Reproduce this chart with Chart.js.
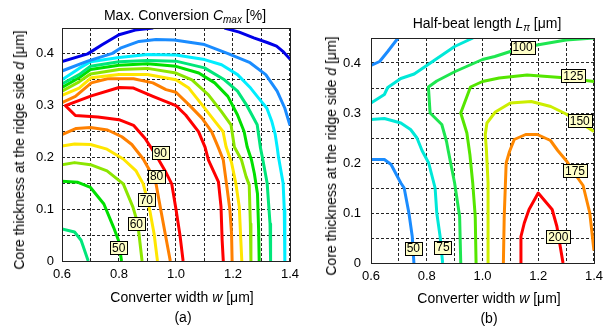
<!DOCTYPE html>
<html>
<head>
<meta charset="utf-8">
<script src="https://cdn.jsdelivr.net/npm/chart.js"></script>
<style>
  body { margin: 0; background: #fff; }
  #page { position: relative; width: 609px; height: 329px; overflow: hidden;
          font-family: Arial, "Liberation Sans", sans-serif; color: #000; }
  .panel { position: absolute; top: 0; height: 329px; }
  .txt { position: absolute; white-space: nowrap; font-size: 14px; line-height: 1;
         transform: translate(-50%, -50%); }
  .rot { transform: translate(-50%, -50%) rotate(-90deg); }
  sub { font-size: 10px; line-height: 0; vertical-align: -3px; }
</style>
</head>
<body>
<div id="page">
  <div class="panel" style="left:0;width:305px"><canvas id="chartA"></canvas></div>
  <div class="panel" style="left:305px;width:304px"><canvas id="chartB"></canvas></div>

  <div class="txt" style="left:185px;top:15px">Max. Conversion <i>C</i><sub><i>max</i></sub> [%]</div>
  <div class="txt" style="left:487px;top:23px">Half-beat length <i>L</i><sub><i>π</i></sub> [μm]</div>
  <div class="txt rot" style="left:19px;top:150px">Core thickness at the ridge side <i>d</i> [μm]</div>
  <div class="txt rot" style="left:331px;top:156px">Core thickness at the ridge side <i>d</i> [μm]</div>
  <div class="txt" style="left:182px;top:297px">Converter width <i>w</i> [μm]</div>
  <div class="txt" style="left:489px;top:298px">Converter width <i>w</i> [μm]</div>
  <div class="txt" style="left:183px;top:317px">(a)</div>
  <div class="txt" style="left:489px;top:318px">(b)</div>
</div>

<script>
// ---- (a) Max. conversion Cmax [%] : contour lines, points are [w (um), d (um)]
const cmax10a = [[0.6,0.385],[0.69,0.4],[0.742,0.418],[0.8,0.437],[0.857,0.446],[0.92,0.45]];
const cmax10b = [[1.17,0.45],[1.222,0.442],[1.273,0.431],[1.32,0.422],[1.353,0.415],[1.375,0.405],[1.4,0.39]];
const cmax20 = [[0.6,0.367],[0.69,0.386],[0.777,0.401],[0.805,0.411],[0.87,0.424],[0.93,0.428],[0.994,0.427],[1.1,0.418],[1.185,0.4],[1.26,0.383],[1.315,0.36],[1.355,0.328],[1.382,0.295],[1.4,0.262]];
const cmax30 = [[0.6,0.35],[0.66,0.372],[0.7,0.385],[0.8,0.393],[0.9,0.399],[1.0,0.398],[1.1,0.389],[1.16,0.379],[1.216,0.36],[1.262,0.334],[1.285,0.318],[1.319,0.295],[1.336,0.27],[1.348,0.245],[1.355,0.22],[1.36,0.2],[1.376,0.15],[1.38,0.1],[1.382,0]];
const cmax40a = [[0.6,0.342],[0.66,0.36],[0.7,0.376],[0.8,0.385],[0.9,0.387],[1.0,0.386],[1.1,0.373],[1.17,0.35],[1.216,0.328],[1.25,0.299],[1.285,0.263],[1.296,0.22],[1.305,0.195],[1.32,0.15],[1.33,0.072],[1.332,0]];
const cmax40b = [[0.6,0.062],[0.644,0.056],[0.667,0.04],[0.692,0]];
const cmax50a = [[0.6,0.335],[0.66,0.354],[0.7,0.37],[0.8,0.378],[0.9,0.381],[1.0,0.376],[1.08,0.363],[1.136,0.344],[1.182,0.318],[1.216,0.282],[1.239,0.25],[1.25,0.22],[1.265,0.195],[1.275,0.169],[1.286,0.13],[1.29,0.06],[1.292,0]];
const cmax50b = [[0.6,0.154],[0.656,0.152],[0.7,0.142],[0.747,0.11],[0.781,0.065],[0.798,0.04],[0.809,0]];
const cmax60a = [[0.6,0.328],[0.66,0.346],[0.7,0.361],[0.8,0.37],[0.9,0.372],[1.0,0.363],[1.056,0.35],[1.114,0.321],[1.159,0.289],[1.193,0.263],[1.205,0.22],[1.23,0.195],[1.246,0.163],[1.257,0.147],[1.261,0.072],[1.263,0]];
const cmax60b = [[0.6,0.186],[0.644,0.19],[0.7,0.186],[0.758,0.174],[0.815,0.149],[0.849,0.104],[0.866,0.072],[0.881,0]];
const cmax70a = [[0.6,0.32],[0.66,0.334],[0.703,0.354],[0.8,0.36],[0.9,0.36],[1.0,0.35],[1.045,0.334],[1.091,0.302],[1.136,0.27],[1.165,0.25],[1.176,0.22],[1.195,0.19],[1.21,0.15],[1.222,0.105],[1.231,0]];
const cmax70b = [[0.6,0.222],[0.644,0.226],[0.7,0.225],[0.758,0.216],[0.815,0.197],[0.86,0.174],[0.885,0.149],[0.906,0.104],[0.923,0.053],[0.935,0]];
const cmax80a = [[0.6,0.306],[0.647,0.318],[0.703,0.344],[0.76,0.352],[0.851,0.352],[0.919,0.344],[0.965,0.331],[1.0,0.326],[1.045,0.302],[1.091,0.276],[1.125,0.25],[1.148,0.22],[1.166,0.195],[1.177,0.15],[1.189,0.1],[1.195,0.053],[1.197,0]];
const cmax80b = [[0.6,0.244],[0.65,0.256],[0.7,0.258],[0.76,0.253],[0.81,0.24],[0.845,0.225],[0.885,0.197],[0.928,0.155],[0.945,0.104],[0.962,0.053],[0.98,0]];
const cmax90 = [[1.025,0],[1.014,0.05],[1.0,0.1],[0.985,0.149],[0.962,0.174],[0.928,0.206],[0.891,0.237],[0.851,0.262],[0.8,0.273],[0.726,0.278],[0.647,0.281],[0.612,0.3],[0.703,0.319],[0.8,0.335],[0.851,0.334],[0.919,0.318],[1.0,0.3],[1.034,0.282],[1.079,0.25],[1.102,0.22],[1.114,0.195],[1.149,0.153],[1.158,0.105],[1.162,0.04],[1.166,0]];

// contour labels of (a)
const cmaxLabelValues = [90, 80, 70, 60, 50];
const cmaxLabelW = [0.945, 0.932, 0.896, 0.861, 0.799];
const cmaxLabelD = [0.21, 0.164, 0.119, 0.072, 0.026];

// ---- (b) Half-beat length L_pi [um]
const lpi50a = [[0.6,0.395],[0.631,0.403],[0.66,0.423],[0.697,0.45]];
const lpi50b = [[0.6,0.207],[0.648,0.207],[0.672,0.197],[0.707,0.16],[0.719,0.15],[0.736,0.1],[0.748,0.053],[0.754,0]];
const lpi75a = [[0.6,0.32],[0.648,0.337],[0.66,0.351],[0.707,0.369],[0.755,0.378],[0.805,0.397],[0.85,0.414],[0.9,0.433],[0.966,0.45]];
const lpi75b = [[0.6,0.287],[0.648,0.289],[0.707,0.28],[0.742,0.267],[0.765,0.25],[0.783,0.225],[0.807,0.2],[0.83,0.15],[0.836,0.1],[0.848,0.053],[0.857,0]];
const lpi100 = [[0.922,0],[0.918,0.093],[0.9,0.16],[0.877,0.225],[0.871,0.243],[0.854,0.277],[0.812,0.3],[0.806,0.352],[0.836,0.364],[0.902,0.383],[1.0,0.407],[1.044,0.413],[1.1,0.423],[1.175,0.434],[1.3,0.446],[1.4,0.45]];
const lpi125 = [[0.977,0],[0.974,0.093],[0.965,0.16],[0.955,0.216],[0.944,0.26],[0.922,0.3],[0.957,0.352],[1.0,0.363],[1.06,0.37],[1.16,0.376],[1.28,0.371],[1.4,0.363]];
const lpi150 = [[1.022,0],[1.02,0.16],[1.014,0.227],[1.01,0.257],[1.016,0.28],[1.046,0.302],[1.1,0.32],[1.175,0.323],[1.245,0.313],[1.3,0.298],[1.4,0.263]];
const lpi175 = [[1.075,0],[1.078,0.093],[1.085,0.2],[1.097,0.223],[1.114,0.247],[1.155,0.257],[1.197,0.257],[1.244,0.245],[1.27,0.225],[1.303,0.203],[1.338,0.173],[1.361,0.155],[1.385,0.1],[1.4,0.025]];
const lpi200 = [[1.136,0],[1.138,0.053],[1.15,0.08],[1.167,0.107],[1.2,0.14],[1.25,0.107],[1.267,0.073],[1.279,0.033],[1.289,0]];

const lpiLabelValues = [50, 75, 100, 125, 150, 175, 200];
const lpiLabelW = [0.752, 0.858, 1.144, 1.326, 1.349, 1.332, 1.272];
const lpiLabelD = [0.03, 0.032, 0.432, 0.375, 0.285, 0.185, 0.053];

// colours of the levels (jet-like)
const cmaxColors = { 10: '#0000e8', 20: '#1a8cff', 30: '#00eeff', 40: '#00e67a', 50: '#00e000',
                     60: '#8ce600', 70: '#ffe600', 80: '#ff8000', 90: '#ff0000' };
const lpiColors = { 50: '#1a8cff', 75: '#00e8d8', 100: '#1ee650', 125: '#55e600',
                    150: '#ccee00', 175: '#ff8800', 200: '#ff0000' };

const cmaxLines = [[cmax10a, 10], [cmax10b, 10], [cmax20, 20], [cmax30, 30], [cmax40a, 40], [cmax40b, 40],
                   [cmax50a, 50], [cmax50b, 50], [cmax60a, 60], [cmax60b, 60], [cmax70a, 70], [cmax70b, 70],
                   [cmax80a, 80], [cmax80b, 80], [cmax90, 90]];
const lpiLines = [[lpi50a, 50], [lpi50b, 50], [lpi75a, 75], [lpi75b, 75], [lpi100, 100], [lpi125, 125],
                  [lpi150, 150], [lpi175, 175], [lpi200, 200]];

const FONT = 'Arial, "Liberation Sans", sans-serif';

function toDataset(points, color) {
  return {
    data: points.map(p => ({ x: p[0], y: p[1] })),
    borderColor: color,
    borderWidth: 3,
    showLine: true,
    pointRadius: 0,
    pointHoverRadius: 0,
    tension: 0,
    clip: 0,
    borderJoinStyle: 'round'
  };
}

// plot frame + little yellow boxes with the level numbers
function labelPlugin(values, ws, ds) {
  return {
    id: 'contourLabels',
    afterDatasetsDraw(chart) {
      const { ctx, chartArea: a, scales: { x, y } } = chart;
      ctx.save();
      ctx.strokeStyle = '#222';
      ctx.lineWidth = 1;
      ctx.strokeRect(Math.round(a.left) + 0.5, Math.round(a.top) + 0.5,
                     Math.round(a.right - a.left), Math.round(a.bottom - a.top));
      ctx.font = '12px ' + FONT;
      ctx.textAlign = 'center';
      ctx.textBaseline = 'middle';
      values.forEach((v, i) => {
        const px = x.getPixelForValue(ws[i]);
        const py = y.getPixelForValue(ds[i]);
        const text = String(v);
        const bw = Math.round(ctx.measureText(text).width + 4);
        const bh = 13;
        const bx = Math.round(px - bw / 2) + 0.5;
        const by = Math.round(py - bh / 2) + 0.5;
        ctx.fillStyle = '#ffffc8';
        ctx.fillRect(bx, by, bw, bh);
        ctx.strokeStyle = '#000';
        ctx.strokeRect(bx, by, bw, bh);
        ctx.fillStyle = '#000';
        ctx.fillText(text, px, py + 1);
      });
      ctx.restore();
    }
  };
}

function makePanel(canvasId, lines, colors, labels, area) {
  const cv = document.getElementById(canvasId);
  const W = cv.parentNode.clientWidth;
  const H = cv.parentNode.clientHeight;
  const gridOpts = { color: 'rgba(0,0,0,0.85)', lineWidth: 1, drawTicks: false };
  return new Chart(cv, {
    type: 'scatter',
    data: { datasets: lines.map(l => toDataset(l[0], colors[l[1]])) },
    options: {
      responsive: true,
      maintainAspectRatio: false,
      animation: false,
      events: [],
      layout: { padding: { left: 0, right: W - area.right, top: area.top, bottom: 0 } },
      plugins: { legend: { display: false }, tooltip: { enabled: false } },
      scales: {
        x: {
          type: 'linear', min: 0.6, max: 1.4,
          afterFit: s => { s.height = H - area.bottom; },
          grid: gridOpts,
          border: { display: false, dash: [3, 2] },
          ticks: {
            stepSize: 0.1, autoSkip: false, maxRotation: 0, minRotation: 0,
            padding: area.xPad, color: '#000', font: { family: FONT, size: 13 },
            callback: v => (Math.round(v * 10) % 2 === 0 ? Number(v).toFixed(1) : '')
          }
        },
        y: {
          type: 'linear', min: 0, max: 0.45,
          afterFit: s => { s.width = area.left; },
          grid: gridOpts,
          border: { display: false, dash: [3, 2] },
          ticks: {
            stepSize: 0.05, autoSkip: false,
            padding: area.yPad, color: '#000', font: { family: FONT, size: 13 },
            callback: v => {
              const k = Math.round(v * 20);
              if (k % 2 !== 0) return '';
              return k === 0 ? '0' : (k / 20).toFixed(1);
            }
          }
        }
      }
    },
    plugins: [labelPlugin(labels[0], labels[1], labels[2])]
  });
}

makePanel('chartA', cmaxLines, cmaxColors, [cmaxLabelValues, cmaxLabelW, cmaxLabelD],
          { left: 62, right: 295, top: 28, bottom: 261, xPad: 6, yPad: 8 });
makePanel('chartB', lpiLines, lpiColors, [lpiLabelValues, lpiLabelW, lpiLabelD],
          { left: 66, right: 293, top: 38, bottom: 263, xPad: 6, yPad: 10 });
</script>
</body>
</html>
